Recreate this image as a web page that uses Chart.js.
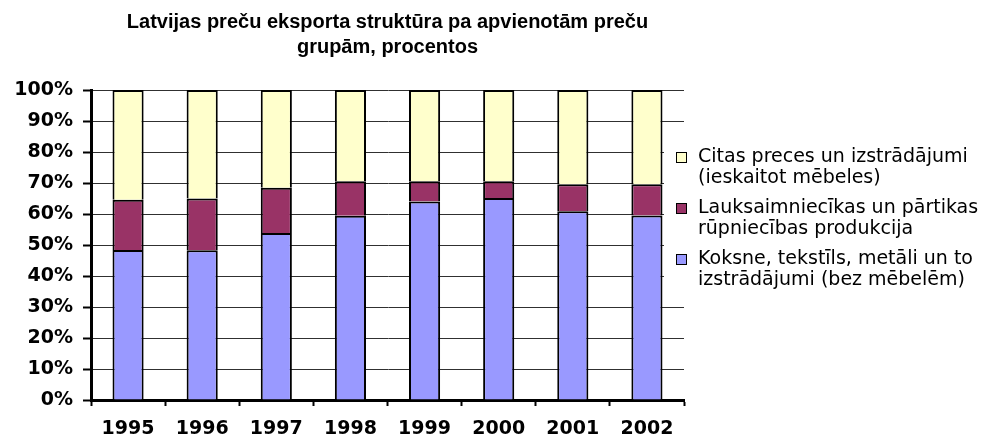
<!DOCTYPE html>
<html>
<head>
<meta charset="utf-8">
<script src="https://cdn.jsdelivr.net/npm/chart.js@4.4.1/dist/chart.umd.min.js"></script>
<style>
  html, body { margin: 0; padding: 0; background: #fff; }
  #wrap { width: 985px; height: 437px; position: relative; }
</style>
</head>
<body>
<div id="wrap"><canvas id="c" width="985" height="437"></canvas></div>
<script>
// ---- data ----
const years = ['1995', '1996', '1997', '1998', '1999', '2000', '2001', '2002'];
const koksne = [48.4, 48.3, 53.9, 59.4, 64.0, 65.2, 60.9, 59.5];
const lauksaimniecibas = [16.2, 16.7, 14.6, 11.2, 6.6, 5.4, 8.7, 10.1];
const citas = [35.4, 35.0, 31.5, 29.4, 29.4, 29.4, 30.4, 30.4];
const seriesNames = [
  ['Koksne, tekstīls, metāli un to', 'izstrādājumi (bez mēbelēm)'],
  ['Lauksaimniecīkas un pārtikas', 'rūpniecības produkcija'],
  ['Citas preces un izstrādājumi', '(ieskaitot mēbeles)']
];
const titleLines = ['Latvijas preču eksporta struktūra pa apvienotām preču', 'grupām, procentos'];

const seriesColors = ['#9999FF', '#993366', '#FFFFCC'];

const legendPlugin = {
  id: 'customLegend',
  afterDraw(chart) {
    const ctx = chart.ctx;
    ctx.save();
    ctx.fillStyle = '#fff';
    ctx.fillRect(664, 138, 321, 152);
    const ds = chart.data.datasets.slice().reverse();
    ctx.font = '19px "DejaVu Sans"';
    ctx.textBaseline = 'alphabetic';
    ctx.textAlign = 'left';
    ds.forEach((d, i) => {
      const base = 162 + i * 51;
      ctx.fillStyle = d.backgroundColor;
      ctx.fillRect(676.5, base - 9.5, 10, 10);
      ctx.strokeStyle = '#000';
      ctx.lineWidth = 1;
      ctx.strokeRect(676.5, base - 9.5, 10, 10);
      ctx.fillStyle = '#000';
      d.legendLines.forEach((t, j) => ctx.fillText(t, 698, base + j * 21));
    });
    ctx.restore();
  }
};

const tickFont = { family: '"DejaVu Sans"', size: 19, weight: 'bold' };

new Chart(document.getElementById('c'), {
  type: 'bar',
  data: {
    labels: years,
    datasets: [
      { label: seriesNames[0].join(' '), legendLines: seriesNames[0], data: koksne, backgroundColor: seriesColors[0] },
      { label: seriesNames[1].join(' '), legendLines: seriesNames[1], data: lauksaimniecibas, backgroundColor: seriesColors[1] },
      { label: seriesNames[2].join(' '), legendLines: seriesNames[2], data: citas, backgroundColor: seriesColors[2] }
    ].map(d => Object.assign(d, {
      borderColor: '#000', borderWidth: 2, borderSkipped: 'start',
      categoryPercentage: 1, barPercentage: 0.42
    }))
  },
  options: {
    responsive: false,
    animation: false,
    devicePixelRatio: 1,
    layout: { padding: { left: 0, right: 301, top: 0, bottom: 0 } },
    plugins: {
      legend: { display: false },
      tooltip: { enabled: false },
      title: {
        display: true,
        text: titleLines,
        fullSize: false,
        color: '#000',
        font: { family: '"Liberation Sans", Arial', size: 20, weight: 'bold', lineHeight: 1.25 },
        padding: { top: 9.5, bottom: 30.5 }
      }
    },
    scales: {
      x: {
        stacked: true,
        grid: { drawOnChartArea: false, drawTicks: true, tickLength: 6, tickColor: '#000', tickWidth: 2, offset: true },
        border: { color: '#000', width: 3 },
        ticks: { color: '#000', font: tickFont, padding: 12, maxRotation: 0 },
        afterFit(s) { s.height = 37; }
      },
      y: {
        stacked: true,
        min: 0, max: 100,
        grid: { color: '#303030', lineWidth: 1, tickLength: 8, tickColor: '#000', tickWidth: 2 },
        border: { color: '#000', width: 3 },
        ticks: { stepSize: 10, color: '#000', font: tickFont, padding: 10, callback: v => v + '%' },
        afterFit(s) { s.width = 91; }
      }
    }
  },
  plugins: [legendPlugin]
});
</script>
</body>
</html>
